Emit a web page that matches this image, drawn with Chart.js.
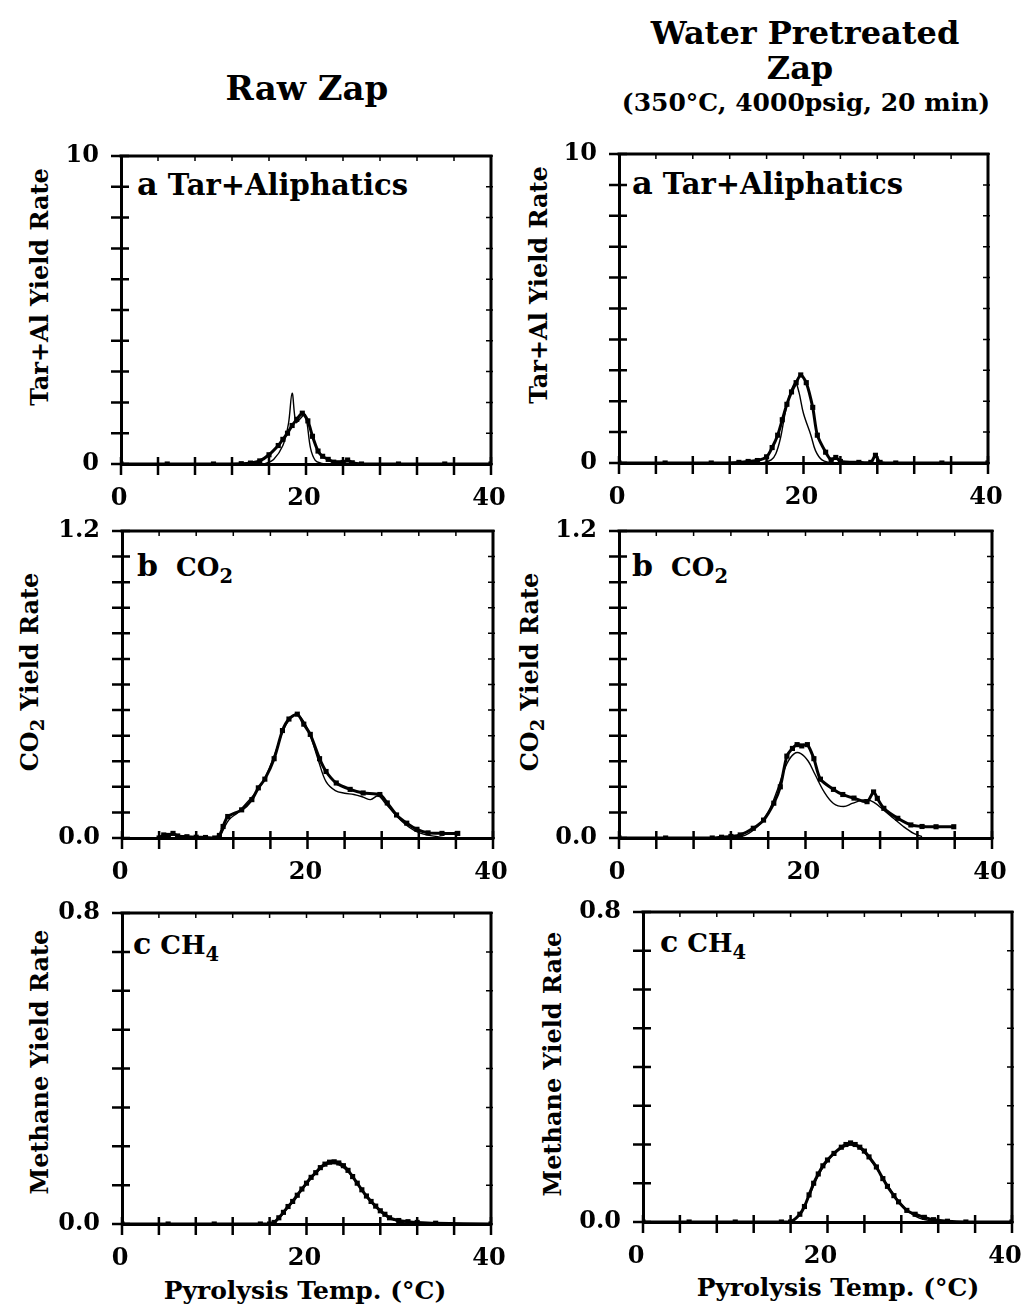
<!DOCTYPE html>
<html><head><meta charset="utf-8">
<script src="https://cdn.jsdelivr.net/npm/chart.js@4/dist/chart.umd.min.js"></script>
<style>
html,body{margin:0;padding:0;background:#fff;}
body{width:1024px;height:1312px;position:relative;overflow:hidden;font-family:"DejaVu Serif",serif;font-weight:bold;color:#000;}
.t{position:absolute;white-space:nowrap;transform:translate(-50%,-50%);line-height:1;}
.l{position:absolute;white-space:nowrap;transform:translate(0,-50%);line-height:1;}
.r{position:absolute;white-space:nowrap;transform:translate(-50%,-50%) rotate(-90deg);line-height:1;}
canvas{position:absolute;}
sub{font-size:0.75em;vertical-align:-0.35em;line-height:0;}
</style></head><body>
<div class="t" style="left:307px;top:88px;font-size:34px;">Raw Zap</div>
<div class="t" style="left:805px;top:33px;font-size:32px;">Water Pretreated</div>
<div class="t" style="left:800px;top:68px;font-size:32px;">Zap</div>
<div class="t" style="left:806px;top:102px;font-size:25px;">(350°C, 4000psig, 20 min)</div>

<div class="r" style="left:40px;top:287px;font-size:24px;">Tar+Al Yield Rate</div>
<div class="r" style="left:539px;top:285px;font-size:24px;">Tar+Al Yield Rate</div>
<div class="r" style="left:30px;top:672px;font-size:24px;">CO<sub>2</sub> Yield Rate</div>
<div class="r" style="left:530px;top:672px;font-size:24px;">CO<sub>2</sub> Yield Rate</div>
<div class="r" style="left:40px;top:1062px;font-size:24px;">Methane Yield Rate</div>
<div class="r" style="left:553px;top:1064px;font-size:24px;">Methane Yield Rate</div>

<div class="l" style="left:137px;top:184px;font-size:29px;"><span style="font-size:32px">a</span> Tar+Aliphatics</div>
<div class="l" style="left:632px;top:183px;font-size:29px;"><span style="font-size:32px">a</span> Tar+Aliphatics</div>
<div class="l" style="left:137px;top:566px;font-size:26px;"><span style="font-size:30px">b</span>&nbsp; CO<sub>2</sub></div>
<div class="l" style="left:632px;top:566px;font-size:26px;"><span style="font-size:30px">b</span>&nbsp; CO<sub>2</sub></div>
<div class="l" style="left:133px;top:944px;font-size:26px;"><span style="font-size:30px">c</span> CH<sub>4</sub></div>
<div class="l" style="left:660px;top:942px;font-size:26px;"><span style="font-size:30px">c</span> CH<sub>4</sub></div>

<div class="t" style="left:305px;top:1290px;font-size:25px;">Pyrolysis Temp. (°C)</div>
<div class="t" style="left:838px;top:1287px;font-size:25px;">Pyrolysis Temp. (°C)</div>

<canvas id="c1"></canvas><canvas id="c2"></canvas>
<canvas id="c3"></canvas><canvas id="c4"></canvas>
<canvas id="c5"></canvas><canvas id="c6"></canvas>
<script>
// ---------- DATA ----------
const tempTicks = [0, 20, 40];

// a: Tar + Aliphatics, raw
const rawTarX   = [0, 5, 10, 13, 14, 15, 16, 17, 17.5, 18, 18.5, 19, 19.6, 20.2, 20.7, 21.3, 21.8, 22.4, 23, 23.5, 24, 24.5, 25, 26, 30, 35, 40];
const rawTarY   = [0, 0, 0, 0.01, 0.03, 0.1, 0.3, 0.6, 0.8, 1.0, 1.25, 1.45, 1.65, 1.4, 0.9, 0.42, 0.25, 0.15, 0.06, 0.04, 0.05, 0.13, 0.04, 0, 0, 0, 0];
const rawTarFitX = [15.5, 16.5, 17.5, 18.1, 18.5, 18.9, 19.3, 19.9, 20.5, 21, 21.6, 22.5];
const rawTarFitY = [0, 0.15, 0.6, 1.3, 2.3, 1.35, 1.45, 1.6, 0.5, 0.12, 0.03, 0];

// a: Tar + Aliphatics, water pretreated
const watTarX   = [0, 5, 10, 13, 14, 15, 16, 16.6, 17.2, 17.7, 18.2, 18.7, 19.2, 19.7, 20.3, 21, 21.5, 22.4, 23, 23.5, 24, 26, 27.3, 27.8, 28.3, 30, 35, 40];
const watTarY   = [0, 0, 0, 0.02, 0.05, 0.08, 0.2, 0.5, 0.9, 1.4, 1.9, 2.3, 2.6, 2.85, 2.6, 1.8, 0.9, 0.35, 0.1, 0.18, 0.05, 0.02, 0.02, 0.25, 0.02, 0, 0, 0];
const watTarFitX = [15.5, 16.5, 17, 17.5, 18, 18.5, 19.1, 19.5, 20, 20.8, 21.3, 22, 23];
const watTarFitY = [0, 0.1, 0.3, 0.8, 1.6, 2.2, 2.6, 2.3, 1.6, 0.9, 0.4, 0.1, 0];

// b: CO2, raw
const rawCO2X   = [4, 4.5, 5, 5.5, 6, 7, 8, 9, 10, 10.5, 10.9, 11.4, 12.9, 14, 14.7, 15.4, 16.4, 17.3, 18, 18.9, 19.6, 20.3, 21.3, 22, 23.1, 24.6, 26, 27.8, 28.6, 29.6, 30.7, 31.8, 33, 34.5, 36.2];
const rawCO2Y   = [0, 0.012, 0.01, 0.018, 0.008, 0.005, 0.003, 0.002, 0, 0.01, 0.045, 0.084, 0.11, 0.15, 0.196, 0.23, 0.31, 0.42, 0.465, 0.484, 0.445, 0.405, 0.31, 0.26, 0.215, 0.19, 0.176, 0.17, 0.137, 0.09, 0.058, 0.034, 0.02, 0.018, 0.018];
const rawCO2FitX = [10.5, 11.5, 12.5, 13.5, 14.5, 15.5, 16.5, 17.5, 18.5, 19.3, 20.2, 21.2, 22, 23, 24, 25, 26, 26.8, 27.6, 28.3, 29.5, 30.5, 31.5, 32.5, 34, 35];
const rawCO2FitY = [0, 0.07, 0.1, 0.14, 0.18, 0.24, 0.33, 0.43, 0.48, 0.47, 0.41, 0.3, 0.22, 0.185, 0.175, 0.17, 0.16, 0.15, 0.165, 0.14, 0.09, 0.055, 0.03, 0.015, 0.005, 0];

// b: CO2, water pretreated
const watCO2X   = [0, 5, 10, 11, 12, 13, 14.4, 15.5, 16.6, 17.3, 18, 18.6, 19.1, 19.6, 20.2, 20.9, 21.6, 23, 24, 25.2, 26.6, 27.3, 27.7, 28.4, 29.9, 31.3, 32.5, 34, 35.9];
const watCO2Y   = [0, 0, 0, 0.003, 0.006, 0.012, 0.038, 0.07, 0.136, 0.2, 0.32, 0.35, 0.365, 0.36, 0.365, 0.31, 0.23, 0.19, 0.17, 0.156, 0.142, 0.18, 0.155, 0.116, 0.077, 0.051, 0.045, 0.044, 0.044];
const watCO2FitX = [12, 13.5, 15, 16, 17, 18, 18.8, 19.5, 20.3, 21, 22, 23, 24.1, 25, 26, 26.6, 27.3, 28.3, 29.5, 30.5, 31.6, 32.5];
const watCO2FitY = [0, 0.01, 0.05, 0.1, 0.19, 0.29, 0.33, 0.33, 0.3, 0.25, 0.18, 0.135, 0.123, 0.135, 0.147, 0.149, 0.14, 0.112, 0.075, 0.045, 0.018, 0.005];

// c: CH4, raw
const rawCH4X   = [0, 5, 10, 15, 16, 16.5, 17, 17.5, 18, 18.5, 19, 19.5, 20, 20.5, 21, 21.5, 22, 22.5, 23, 23.5, 24, 24.5, 25, 25.5, 26, 26.5, 27, 27.5, 28, 28.5, 29, 30, 31, 32, 34, 40];
const rawCH4Y   = [0, 0, 0, 0, 0, 0.004, 0.016, 0.03, 0.045, 0.058, 0.074, 0.09, 0.105, 0.12, 0.132, 0.145, 0.154, 0.159, 0.16, 0.157, 0.15, 0.138, 0.122, 0.105, 0.088, 0.072, 0.058, 0.046, 0.034, 0.025, 0.016, 0.009, 0.006, 0.004, 0.002, 0];
const rawCH4FitX = [16, 17, 18, 19, 20, 21, 22, 22.8, 23.5, 24.5, 25.5, 26.5, 27.5, 28.5, 29.5, 31];
const rawCH4FitY = [0, 0.014, 0.043, 0.072, 0.103, 0.13, 0.151, 0.156, 0.153, 0.135, 0.103, 0.07, 0.044, 0.022, 0.01, 0];

// c: CH4, water pretreated
const watCH4X   = [0, 5, 10, 15, 16, 17, 17.5, 18, 18.5, 19, 19.5, 20, 20.7, 21.5, 22, 22.5, 23, 23.5, 24, 24.5, 25.3, 26, 26.5, 27.2, 27.7, 28.6, 29.5, 30.5, 31.5, 33, 35, 40];
const watCH4Y   = [0, 0, 0, 0, 0, 0.02, 0.04, 0.07, 0.1, 0.124, 0.145, 0.16, 0.177, 0.193, 0.2, 0.204, 0.2, 0.193, 0.183, 0.168, 0.142, 0.112, 0.092, 0.068, 0.052, 0.03, 0.02, 0.012, 0.006, 0.002, 0, 0];
const watCH4FitX = [16, 17, 18, 19, 20, 21, 22, 22.7, 23.5, 24.5, 25.5, 26.5, 27.5, 28.5, 29.5, 30.5, 32];
const watCH4FitY = [0, 0.02, 0.066, 0.12, 0.157, 0.183, 0.196, 0.198, 0.19, 0.165, 0.132, 0.095, 0.06, 0.033, 0.015, 0.006, 0];

// y-axis ranges and labelled ticks
const tarAxis = {max: 10, step: 1, labels: ['0', '10']};
const co2Axis = {max: 1.2, step: 0.1, labels: ['0.0', '1.2']};
const ch4Axis = {max: 0.8, step: 0.1, labels: ['0.0', '0.8']};

// ---------- DRAWING ----------
const PADL = 80, PADT = 50, PADR = 55, PADB = 55;
const tickFont = {family: 'DejaVu Serif', weight: 'bold', size: 24};

function pts(xs, ys) { return xs.map((x, i) => ({x: x, y: ys[i]})); }

const framePlugin = {
  id: 'frame',
  afterDraw(chart) {
    const {ctx, chartArea: a, scales} = chart;
    const xs = scales.x, ys = scales.y;
    ctx.save();
    ctx.strokeStyle = '#000';
    ctx.lineCap = 'square';
    ctx.lineWidth = 3;
    ctx.beginPath();
    ctx.moveTo(a.left, a.top); ctx.lineTo(a.right, a.top); ctx.lineTo(a.right, a.bottom);
    ctx.stroke();
    ctx.lineWidth = 2.5;
    ctx.lineCap = 'butt';
    ctx.beginPath();
    ys.ticks.forEach(t => {
      const p = ys.getPixelForValue(t.value);
      ctx.moveTo(a.left - 10, p); ctx.lineTo(a.left + 8, p);
    });
    xs.ticks.forEach(t => {
      const p = xs.getPixelForValue(t.value);
      ctx.moveTo(p, a.bottom - 7); ctx.lineTo(p, a.bottom + 11);
    });
    ctx.stroke();
    ctx.lineWidth = 1.5;
    ctx.beginPath();
    ys.ticks.forEach(t => {
      const p = ys.getPixelForValue(t.value);
      ctx.moveTo(a.right - 5, p); ctx.lineTo(a.right + 2, p);
    });
    xs.ticks.forEach(t => {
      const p = xs.getPixelForValue(t.value);
      ctx.moveTo(p, a.top); ctx.lineTo(p, a.top + 5);
    });
    ctx.stroke();
    ctx.restore();
  }
};

function makePanel(id, rect, axis, dataX, dataY, fitX, fitY, xLabelShift) {
  const [L, T, R, B] = rect;
  const cv = document.getElementById(id);
  const w = R - L + PADL + PADR, h = B - T + PADT + PADB;
  cv.width = w; cv.height = h;
  cv.style.left = (L - PADL) + 'px';
  cv.style.top = (T - PADT) + 'px';
  cv.style.width = w + 'px'; cv.style.height = h + 'px';
  new Chart(cv, {
    type: 'line',
    data: {
      datasets: [
        {data: pts(dataX, dataY), borderColor: '#000', backgroundColor: '#000', borderWidth: 3,
         pointRadius: 1.5, pointStyle: 'rect', tension: 0.25, order: 1},
        {data: pts(fitX, fitY), borderColor: '#000', borderWidth: 1.4, pointRadius: 0, tension: 0.35, order: 2}
      ]
    },
    options: {
      responsive: false, animation: false, devicePixelRatio: 1,
      layout: {padding: {left: 0, top: PADT, right: PADR, bottom: 0}},
      plugins: {legend: {display: false}, tooltip: {enabled: false}},
      scales: {
        x: {type: 'linear', min: 0, max: 40,
            grid: {display: false, drawTicks: false},
            border: {display: true, color: '#000', width: 3},
            ticks: {stepSize: 4, autoSkip: false, maxRotation: 0, color: '#000', font: tickFont, padding: 20,
                    labelOffset: xLabelShift || 0,
                    callback: v => tempTicks.includes(Math.round(v)) && Math.abs(v - Math.round(v)) < 1e-6 ? String(Math.round(v)) : ''},
            afterFit: s => { s.height = PADB; }},
        y: {type: 'linear', min: 0, max: axis.max,
            grid: {display: false, drawTicks: false},
            border: {display: true, color: '#000', width: 3},
            ticks: {stepSize: axis.step, autoSkip: false, color: '#000', font: tickFont, padding: 22,
                    callback: v => Math.abs(v) < 1e-6 ? axis.labels[0] : (Math.abs(v - axis.max) < 1e-6 ? axis.labels[1] : '')},
            afterFit: s => { s.width = PADL; }}
      }
    },
    plugins: [framePlugin]
  });
}

makePanel('c1', [121, 156, 491, 464], tarAxis, rawTarX, rawTarY, rawTarFitX, rawTarFitY, -2);
makePanel('c2', [619, 154, 988, 463], tarAxis, watTarX, watTarY, watTarFitX, watTarFitY, -2);
makePanel('c3', [122, 531, 493, 838], co2Axis, rawCO2X, rawCO2Y, rawCO2FitX, rawCO2FitY, -2);
makePanel('c4', [619, 531, 992, 838], co2Axis, watCO2X, watCO2Y, watCO2FitX, watCO2FitY, -2);
makePanel('c5', [122, 913, 491, 1224], ch4Axis, rawCH4X, rawCH4Y, rawCH4FitX, rawCH4FitY, -2);
makePanel('c6', [643, 912, 1012, 1222], ch4Axis, watCH4X, watCH4Y, watCH4FitX, watCH4FitY, -7);
</script>
</body></html>
